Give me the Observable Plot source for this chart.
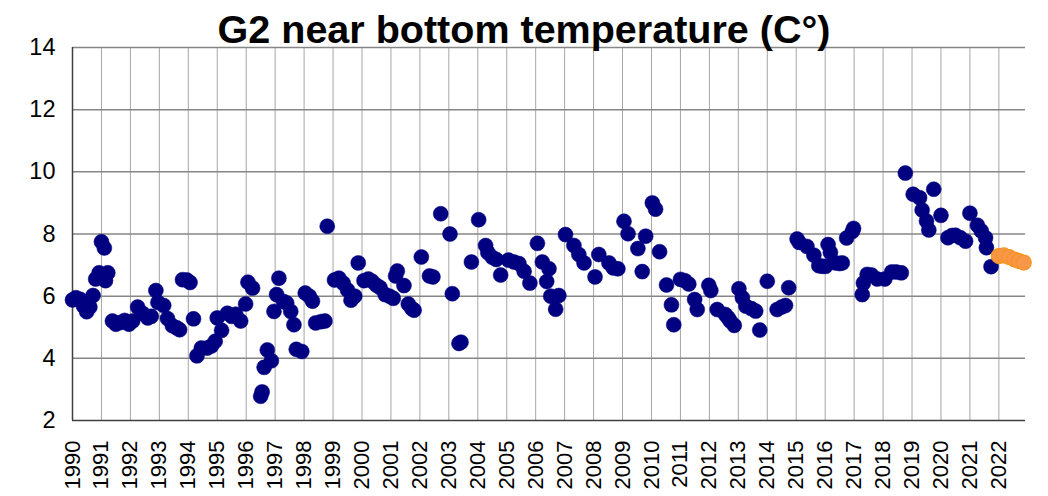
<!DOCTYPE html>
<html>
<head>
<meta charset="utf-8">
<script src="https://cdn.jsdelivr.net/npm/d3@7"></script>
<script src="https://cdn.jsdelivr.net/npm/@observablehq/plot@0.6"></script>
<style>
  html, body { margin: 0; padding: 0; background: white; }
  #wrap { width: 1048px; height: 496px; position: relative; overflow: hidden; }
  #title { position: relative; z-index: 2; height: 33px; padding-top: 7px; line-height: 40px;
           font: bold 39.5px "Liberation Sans", Arial, sans-serif; text-align: center; color: #000; white-space: nowrap; }
  #chart { position: relative; z-index: 1; }
</style>
</head>
<body>
<div id="wrap">
  <div id="title">G2 near bottom temperature (C°)</div>
  <div id="chart"></div>
</div>
<script>
const titleText = "G2 near bottom temperature (C°)";

// Observed series (navy): decimal year and temperature (°C)
const observedYear = [
  1990.00,1990.12,1990.26,1990.38,1990.49,1990.60,1990.71,1990.80,1990.92,
  1991.00,1991.10,1991.14,1991.22,1991.38,1991.50,1991.65,1991.80,1991.95,
  1992.08,1992.25,1992.42,1992.60,1992.72,1992.88,1992.95,
  1993.15,1993.28,1993.45,1993.60,1993.70,1993.80,1993.95,
  1994.06,1994.18,1994.30,1994.45,1994.65,1994.80,1994.93,
  1995.00,1995.15,1995.35,1995.50,1995.64,1995.81,1995.98,
  1996.06,1996.22,1996.50,1996.55,1996.62,1996.73,1996.87,1996.96,
  1997.05,1997.13,1997.29,1997.40,1997.54,1997.65,1997.73,1997.92,
  1998.04,1998.18,1998.29,1998.40,1998.58,1998.72,1998.80,
  1999.05,1999.20,1999.35,1999.50,1999.62,1999.75,1999.87,
  2000.07,2000.22,2000.35,2000.50,2000.62,2000.80,2000.95,
  2001.08,2001.16,2001.22,2001.45,2001.60,2001.72,2001.80,
  2002.05,2002.33,2002.45,2002.72,
  2003.04,2003.12,2003.35,2003.42,2003.78,
  2004.03,2004.27,2004.35,2004.50,2004.64,2004.79,
  2005.06,2005.25,2005.42,2005.60,2005.80,
  2006.06,2006.23,2006.38,2006.46,2006.52,2006.69,2006.80,
  2007.03,2007.32,2007.49,2007.67,
  2008.05,2008.18,2008.53,2008.68,2008.84,
  2009.05,2009.19,2009.53,2009.68,2009.80,
  2010.03,2010.14,2010.28,2010.52,2010.69,2010.77,
  2011.00,2011.15,2011.29,2011.49,2011.58,2011.98,
  2012.05,2012.27,2012.55,2012.65,2012.72,2012.86,
  2013.02,2013.14,2013.26,2013.45,2013.60,2013.74,
  2014.00,2014.34,2014.50,2014.63,2014.74,
  2015.03,2015.10,2015.37,2015.61,2015.78,2015.90,
  2016.01,2016.10,2016.18,2016.36,2016.50,2016.59,2016.74,2016.94,2016.98,
  2017.28,2017.32,2017.45,2017.60,2017.80,
  2018.06,2018.30,2018.45,2018.63,2018.77,
  2019.04,2019.26,2019.35,2019.50,2019.58,2019.75,
  2020.00,2020.24,2020.38,2020.50,2020.67,2020.85,
  2021.00,2021.26,2021.39,2021.54,2021.57,2021.73
];
const observedTemp = [
  5.88,5.95,5.90,5.68,5.50,5.65,6.02,6.55,6.75,
  7.75,7.55,6.50,6.75,5.20,5.10,5.15,5.22,5.10,
  5.20,5.65,5.45,5.30,5.35,6.18,5.80,
  5.70,5.28,5.05,4.98,4.92,6.53,6.52,
  6.44,5.27,4.08,4.33,4.33,4.40,4.55,
  5.30,4.90,5.45,5.35,5.42,5.20,5.75,
  6.45,6.26,2.78,2.92,3.71,4.27,3.92,5.51,
  6.05,6.58,5.83,5.78,5.51,5.08,4.29,4.22,
  6.10,6.00,5.84,5.14,5.18,5.20,8.25,
  6.52,6.58,6.42,6.20,5.87,6.00,7.07,
  6.50,6.55,6.48,6.35,6.28,6.05,6.00,
  5.93,6.65,6.81,6.34,5.75,5.60,5.55,
  7.26,6.65,6.62,8.65,
  8.00,6.08,4.48,4.52,7.10,
  8.46,7.63,7.40,7.25,7.18,6.68,
  7.16,7.10,7.05,6.80,6.42,
  7.70,7.10,6.47,6.88,6.00,5.58,6.02,
  7.98,7.63,7.34,7.07,
  6.62,7.34,7.07,6.91,6.88,
  8.41,8.01,7.53,6.79,7.93,
  9.00,8.80,7.43,6.36,5.72,5.08,
  6.54,6.50,6.39,5.89,5.57,6.35,
  6.18,5.57,5.41,5.30,5.20,5.06,
  6.24,5.95,5.68,5.60,5.52,4.91,
  6.48,5.57,5.65,5.70,6.27,
  7.84,7.73,7.60,7.32,6.98,6.96,
  6.96,7.66,7.41,7.07,7.05,7.07,7.87,8.08,8.18,
  6.05,6.42,6.70,6.68,6.55,
  6.55,6.78,6.78,6.75,9.96,
  9.28,9.17,8.77,8.42,8.13,9.44,
  8.60,7.88,7.95,7.96,7.88,7.77,
  8.67,8.28,8.10,7.88,7.56,6.95
];

// Latest series (orange)
const recentYear = [2022.00,2022.17,2022.35,2022.54,2022.69,2022.86];
const recentTemp = [7.29,7.31,7.26,7.18,7.13,7.08];

// Axis ticks
const yearTicks = [1990,1991,1992,1993,1994,1995,1996,1997,1998,1999,2000,2001,2002,2003,2004,2005,
                   2006,2007,2008,2009,2010,2011,2012,2013,2014,2015,2016,2017,2018,2019,2020,2021,2022];
const tempTicks = [2,4,6,8,10,12,14];

const observed = observedYear.map((t, i) => ({t, v: observedTemp[i]}));
const recent = recentYear.map((t, i) => ({t, v: recentTemp[i]}));

const chart = Plot.plot({
  width: 1048,
  height: 456,
  marginTop: 7,
  marginBottom: 76,
  marginLeft: 72,
  marginRight: 23,
  style: {fontFamily: '"Liberation Sans", Arial, sans-serif', color: "#000", background: "transparent", overflow: "visible"},
  x: {domain: [1990, 2022.92], label: null},
  y: {domain: [2, 14], label: null},
  marks: [
    Plot.gridX(yearTicks.slice(1), {stroke: "#a6a6a6", strokeOpacity: 1, strokeWidth: 1}),
    Plot.gridY(tempTicks.slice(1), {stroke: "#868686", strokeOpacity: 1, strokeWidth: 1.5}),
    Plot.ruleX([1990], {stroke: "#404040", strokeWidth: 1.5}),
    Plot.ruleY([2], {stroke: "#404040", strokeWidth: 1.5}),
    Plot.axisX(yearTicks, {tickSize: 0, tickPadding: 20, tickRotate: -90, fontSize: 22, tickFormat: d => String(d), label: null}),
    Plot.axisY(tempTicks, {tickSize: 0, tickPadding: 17, fontSize: 23.5, tickFormat: d => String(d), label: null}),
    Plot.dot(observed, {x: "t", y: "v", r: 7.5, fill: "#000080", stroke: "#000080", strokeWidth: 0.5}),
    Plot.dot(recent, {x: "t", y: "v", r: 7.5, fill: "#f8974a", stroke: "#f7941d", strokeWidth: 1.2})
  ]
});
document.getElementById("chart").appendChild(chart);
</script>
</body>
</html>
